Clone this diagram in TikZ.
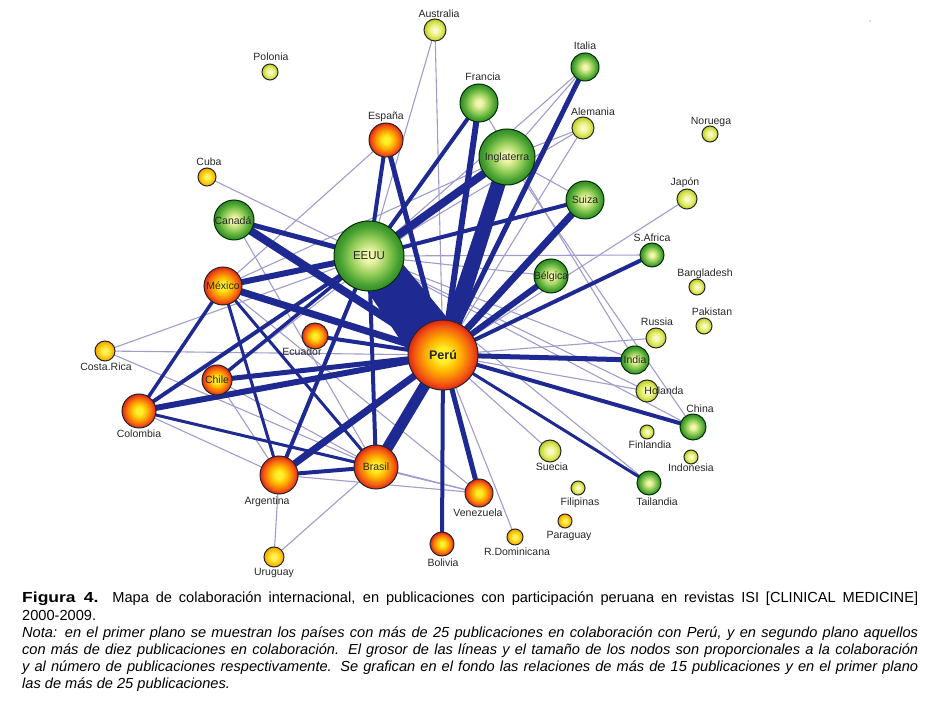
\documentclass[tikz,border=0pt]{standalone}
\usepackage{fontspec}
\setmainfont{Liberation Sans}
\newfontfamily\widebold[FakeStretch=1.2]{Liberation Sans Bold}
\usetikzlibrary{calc}
\pgfdeclarelayer{bg}
\pgfsetlayers{bg,main}
\definecolor{navy}{RGB}{30,42,145}
\definecolor{lav}{RGB}{160,156,205}
\definecolor{gA}{RGB}{240,246,170}
\definecolor{gB}{RGB}{150,206,90}
\definecolor{gC}{RGB}{70,160,48}
\definecolor{gD}{RGB}{52,140,38}
\definecolor{lA}{RGB}{250,250,205}
\definecolor{lB}{RGB}{228,238,110}
\definecolor{lC}{RGB}{186,204,36}
\definecolor{rA}{RGB}{255,238,40}
\definecolor{rB}{RGB}{255,180,0}
\definecolor{rC}{RGB}{244,96,16}
\definecolor{rD}{RGB}{222,36,22}
\definecolor{oA}{RGB}{255,242,90}
\definecolor{oB}{RGB}{255,210,20}
\definecolor{oC}{RGB}{242,162,0}
\pgfdeclareradialshading{gball}{\pgfpoint{0bp}{0bp}}{color(0bp)=(gA); color(4bp)=(gA); color(13bp)=(gB); color(21bp)=(gC); color(25bp)=(gD); color(50bp)=(gD)}
\pgfdeclareradialshading{lball}{\pgfpoint{0bp}{0bp}}{color(0bp)=(lA); color(4bp)=(lA); color(14bp)=(lB); color(25bp)=(lC); color(50bp)=(lC)}
\pgfdeclareradialshading{rball}{\pgfpoint{0bp}{0bp}}{color(0bp)=(rA); color(5bp)=(rA); color(12bp)=(rB); color(20bp)=(rC); color(25bp)=(rD); color(50bp)=(rD)}
\pgfdeclareradialshading{oball}{\pgfpoint{0bp}{0bp}}{color(0bp)=(oA); color(6bp)=(oA); color(15bp)=(oB); color(25bp)=(oC); color(50bp)=(oC)}
\tikzset{
  nd/.style={circle, draw=black!85, line width=1pt, inner sep=0pt, shade},
  G/.style={nd, shading=gball, draw=black!70!green!60!black},
  L/.style={nd, shading=lball},
  R/.style={nd, shading=rball},
  O/.style={nd, shading=oball},
  lbl/.style={font=\fontsize{10.5}{12}\selectfont, text=black!85, inner sep=0pt, anchor=base},
  bgedge/.style={draw=lav, line width=1.1pt},
  fgedge/.style={draw=navy, line width=#1},
}
\begin{document}
\begin{tikzpicture}[x=1pt,y=-1pt]
\useasboundingbox (0,0) rectangle (943,708);
% ---------- nodes ----------
\node[L, minimum size=22] (Aus) at (435,30) {};
\node[L, minimum size=16] (Pol) at (270,72) {};
\node[R, minimum size=34] (Esp) at (386,140) {};
\node[O, minimum size=18] (Cub) at (207,177) {};
\node[G, minimum size=40] (Can) at (234,220) {};
\node[G, minimum size=70] (USA) at (369,256) {};
\node[R, minimum size=38] (Mex) at (223,286) {};
\node[G, minimum size=28] (Ita) at (585,67) {};
\node[G, minimum size=38] (Fra) at (479,103) {};
\node[G, minimum size=56] (Ing) at (507,157) {};
\node[L, minimum size=22] (Ale) at (583,128) {};
\node[L, minimum size=16] (Nor) at (710,134) {};
\node[G, minimum size=38] (Sui) at (585,200) {};
\node[L, minimum size=20] (Jap) at (687,199) {};
\node[G, minimum size=24] (SAf) at (652,255) {};
\node[G, minimum size=34] (Bel) at (551,276) {};
\node[L, minimum size=16] (Ban) at (697,287) {};
\node[R, minimum size=26] (Ecu) at (315,336) {};
\node[R, minimum size=70] (Per) at (443,355) {};
\node[O, minimum size=20] (CRi) at (105,351) {};
\node[R, minimum size=30] (Chi) at (217,380) {};
\node[R, minimum size=34] (Col) at (139,411) {};
\node[R, minimum size=38] (Arg) at (279,475) {};
\node[R, minimum size=44] (Bra) at (376,467) {};
\node[R, minimum size=28] (Ven) at (479,493) {};
\node[R, minimum size=24] (Bol) at (442,544) {};
\node[O, minimum size=20] (Uru) at (274,557) {};
\node[O, minimum size=16] (RDo) at (515,537) {};
\node[L, minimum size=16] (Pak) at (704,326) {};
\node[L, minimum size=20] (Rus) at (656,338) {};
\node[G, minimum size=28] (Ind) at (635,360) {};
\node[L, minimum size=22] (Hol) at (647,391) {};
\node[G, minimum size=26] (Chn) at (693,427) {};
\node[L, minimum size=14] (Fin) at (647,432) {};
\node[L, minimum size=14] (Ido) at (691,457) {};
\node[L, minimum size=22] (Sue) at (550,451) {};
\node[L, minimum size=14] (Fil) at (578,488) {};
\node[G, minimum size=24] (Tai) at (649,483) {};
\node[O, minimum size=14] (Par) at (565,521) {};
\fill[black!60] (870,21) circle (0.6) coordinate (speck);
% ---------- labels ----------
\node[lbl] (tAus) at (439,18) {Australia};
\node[lbl] (tPol) at (271,61) {Polonia};
\node[lbl] (tEsp) at (386,120) {España};
\node[lbl] (tCub) at (209,166) {Cuba};
\node[lbl] (tCan) at (233,225) {Canadá};
\node[lbl, font=\fontsize{11.5}{12}\selectfont] (tUSA) at (369,260) {EEUU};
\node[lbl] (tMex) at (223,290) {México};
\node[lbl] (tIta) at (585,50) {Italia};
\node[lbl] (tFra) at (483,81) {Francia};
\node[lbl] (tIng) at (507,161) {Inglaterra};
\node[lbl] (tAle) at (593,116) {Alemania};
\node[lbl] (tNor) at (711,125) {Noruega};
\node[lbl] (tSui) at (585,204) {Suiza};
\node[lbl] (tJap) at (685,186) {Japón};
\node[lbl] (tSAf) at (652,242) {S.Africa};
\node[lbl] (tBel) at (551,280) {Bélgica};
\node[lbl] (tBan) at (705,277) {Bangladesh};
\node[lbl] (tEcu) at (302,356) {Ecuador};
\node[lbl, font=\bfseries\fontsize{12.5}{14}\selectfont] (tPer) at (443,359.5) {Perú};
\node[lbl] (tCRi) at (106,371) {Costa.Rica};
\node[lbl] (tChi) at (217,384) {Chile};
\node[lbl] (tCol) at (139,438) {Colombia};
\node[lbl] (tArg) at (267,504) {Argentina};
\node[lbl] (tBra) at (376,471) {Brasil};
\node[lbl] (tVen) at (478,516) {Venezuela};
\node[lbl] (tBol) at (443,566) {Bolivia};
\node[lbl] (tUru) at (274,575) {Uruguay};
\node[lbl] (tRDo) at (517,555) {R.Dominicana};
\node[lbl] (tPak) at (712,316) {Pakistan};
\node[lbl] (tRus) at (657,326) {Russia};
\node[lbl] (tInd) at (635,364) {India};
\node[lbl] (tHol) at (664,395) {Holanda};
\node[lbl] (tChn) at (700,413) {China};
\node[lbl] (tFin) at (650,449) {Finlandia};
\node[lbl] (tIdo) at (691,472) {Indonesia};
\node[lbl] (tSue) at (552,471) {Suecia};
\node[lbl] (tFil) at (580,505) {Filipinas};
\node[lbl] (tTai) at (657,505) {Tailandia};
\node[lbl] (tPar) at (569,539) {Paraguay};
% ---------- edges ----------
\begin{pgfonlayer}{bg}
\foreach \a/\b in {Aus/USA, Aus/Per, Cub/USA, Esp/Mex, CRi/Per, CRi/USA, CRi/Bra,
  Ing/Ita, Ing/Ale, Ing/Sui, Ing/Chn, Fra/Ind, Ing/Mex, Ing/Chi, USA/Ita, USA/Ale,
  Ale/Per, Jap/Per, SAf/USA, Bel/USA, Rus/Per, Ind/USA, Hol/Per, Hol/USA, Chn/USA,
  Tai/USA, Sue/Per, RDo/Per, Uru/Arg, Uru/Bra, Col/Arg, Col/Ven, Chi/Bra, Chi/Arg,
  Mex/Ven, Arg/Ven, Bra/Ven, Can/Bra}
  \draw[bgedge] (\a.center) -- (\b.center);
\foreach \a/\b/\w in {Per/Bra/11, Per/Can/8, Per/Mex/7, Per/Arg/7, Per/Sui/7,
  Per/Col/6, Per/Fra/6, Per/Bel/6, Per/Ita/5, Per/Ind/5, Per/Chi/5, Per/Ven/5,
  Per/Esp/5, Per/SAf/4, Per/Chn/4, Per/Bol/4, Per/Ecu/4, Per/Tai/3,
  USA/Ing/8, USA/Mex/6, USA/Can/5, USA/Esp/4, USA/Fra/4, USA/Sui/4, USA/Bra/4,
  USA/Arg/4, USA/Col/4, USA/Chi/3.5, Mex/Arg/3, Mex/Bra/3, Mex/Col/3.5,
  Col/Bra/3, Arg/Bra/4}
  \draw[fgedge=\w pt] (\a.center) -- (\b.center);
\fill[navy] ($(USA.center)!21pt!90:(Per.center)$) -- ($(Per.center)!27pt!-90:(USA.center)$)
  -- ($(Per.center)!27pt!90:(USA.center)$) -- ($(USA.center)!21pt!-90:(Per.center)$) -- cycle;
\fill[navy] ($(Ing.center)!7pt!90:(Per.center)$) -- ($(Per.center)!8.5pt!-90:(Ing.center)$)
  -- ($(Per.center)!8.5pt!90:(Ing.center)$) -- ($(Ing.center)!7pt!-90:(Per.center)$) -- cycle;
\end{pgfonlayer}
% ---------- caption ----------
\node[anchor=north west, inner sep=0pt, text width=896pt, align=justify,
  font=\fontsize{14.6}{17.2}\selectfont] (cap) at (22,592) {%
\hyphenpenalty=10000 \tolerance=10000 \emergencystretch=200pt
{\widebold Figura 4.} Mapa de colaboración internacional, en publicaciones con participación peruana en revistas ISI [CLINICAL MEDICINE]\linebreak
2000-2009.\par
\itshape Nota: en el primer plano se muestran los países con más de 25 publicaciones en colaboración con Perú, y en segundo plano aquellos\linebreak
con más de diez publicaciones en colaboración. El grosor de las líneas y el tamaño de los nodos son proporcionales a la colaboración\linebreak
y al número de publicaciones respectivamente. Se grafican en el fondo las relaciones de más de 15 publicaciones y en el primer plano\linebreak
las de más de 25 publicaciones.\par};
\end{tikzpicture}
\end{document}
